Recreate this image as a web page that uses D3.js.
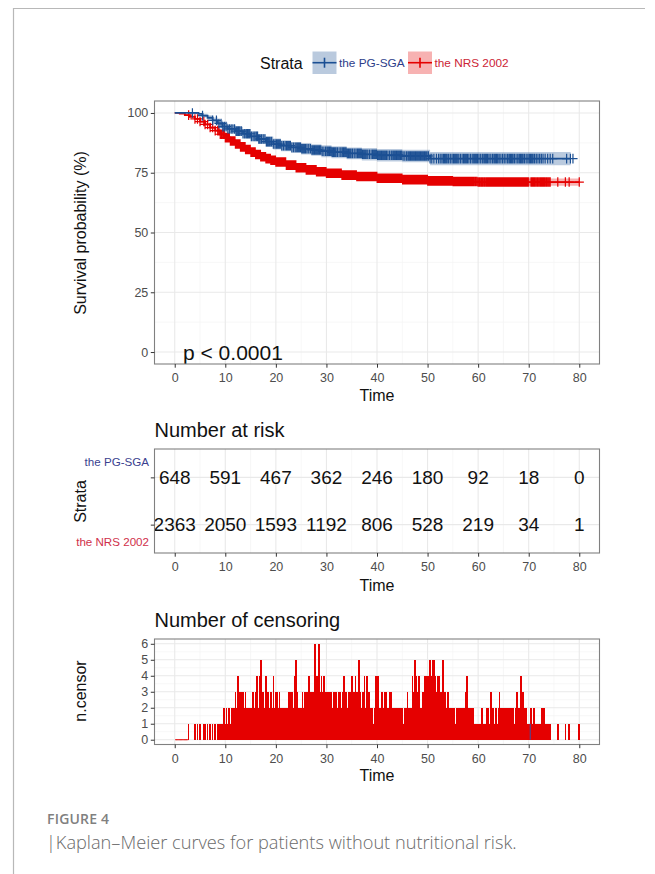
<!DOCTYPE html>
<html>
<head>
<meta charset="utf-8">
<script src="https://cdn.jsdelivr.net/npm/d3@7"></script>
<style>
  body { margin: 0; background: #fff; }
  svg { font-family: "Liberation Sans", Arial, sans-serif; }
</style>
</head>
<body>
<svg id="fig" width="655" height="874"></svg>
<script>
// ---- data ----
const strata = ["the PG-SGA", "the NRS 2002"];

// Kaplan-Meier steps, PG-SGA
const pgTime  = [0, 3, 4.7, 5.5, 6.5, 7.5, 8.5, 9.5, 10.5, 12, 13.5, 15, 16.5, 18, 19.5, 21, 23, 25, 27, 29, 31, 34, 37, 40, 45, 50.5, 78.3];
const pgSurv  = [100, 100, 99.6, 98.9, 98.0, 96.9, 95.6, 94.3, 93.3, 92.4, 91.3, 90.2, 89.1, 88.0, 87.0, 86.3, 85.6, 85.0, 84.5, 84.0, 83.6, 83.1, 82.7, 82.3, 82.0, 80.9, 80.9];
const pgUpper = [100, 100, 100, 99.7, 99.0, 98.1, 97.0, 95.9, 95.0, 94.2, 93.2, 92.2, 91.2, 90.2, 89.3, 88.6, 87.9, 87.4, 86.9, 86.5, 86.1, 85.6, 85.3, 84.9, 84.6, 83.7, 83.9];
const pgLower = [100, 99.7, 99.1, 98.1, 97.0, 95.7, 94.2, 92.7, 91.6, 90.6, 89.4, 88.2, 87.0, 85.8, 84.7, 84.0, 83.3, 82.6, 82.1, 81.5, 81.1, 80.6, 80.1, 79.7, 79.4, 78.1, 77.9];
// censored PG-SGA patients per unit of time, t = 0 ... 80 (marks on the curve)
const pgCensorCounts = [
  0, 0, 0, 1, 0, 1, 0, 1, 2, 3,
  3, 3, 4, 3, 4, 3, 4, 3, 4, 3,
  4, 3, 4, 3, 4, 4, 3, 4, 4, 3,
  4, 4, 3, 4, 4, 3, 4, 4, 3, 4,
  4, 4, 3, 4, 4, 3, 4, 4, 4, 4,
  3, 2, 3, 4, 3, 4, 3, 4, 3, 4,
  3, 4, 3, 4, 3, 3, 4, 3, 4, 3,
  4, 3, 3, 2, 2, 0, 0, 1, 2, 0,
  0];
const pgCensorBarTime = [70.3];
const pgCensorBarCount = [1];

// Kaplan-Meier steps, NRS 2002
const nrsTime  = [0, 1, 2, 3, 4, 5, 6, 7, 8, 9, 10, 11, 12, 13, 14, 15, 16, 17, 18, 19, 20, 22, 24, 26, 28, 30, 33, 36, 40, 45, 50, 55, 60, 80];
const nrsSurv  = [100, 99.7, 99.1, 98.4, 97.5, 96.4, 95.2, 93.9, 92.6, 91.1, 89.7, 88.3, 87.0, 85.8, 84.7, 83.6, 82.6, 81.7, 80.9, 80.2, 79.5, 78.2, 77.1, 76.2, 75.4, 74.8, 74.0, 73.4, 72.7, 72.1, 71.6, 71.3, 71.1, 71.1];
const nrsUpper = [100, 99.8, 99.3, 98.7, 97.8, 96.8, 95.6, 94.4, 93.1, 91.7, 90.3, 89.0, 87.7, 86.5, 85.5, 84.4, 83.4, 82.6, 81.8, 81.1, 80.4, 79.2, 78.1, 77.2, 76.5, 75.9, 75.1, 74.6, 73.9, 73.3, 72.9, 72.7, 72.6, 73.1];
const nrsLower = [100, 99.6, 98.9, 98.1, 97.2, 96.0, 94.8, 93.4, 92.1, 90.5, 89.1, 87.6, 86.3, 85.1, 83.9, 82.8, 81.8, 80.8, 80.0, 79.3, 78.6, 77.2, 76.1, 75.2, 74.3, 73.7, 72.9, 72.2, 71.5, 70.9, 70.3, 69.9, 69.6, 69.1];

// number of censored (NRS 2002) per quarter unit of time, t = 0, 0.25, ... 80
const nrsCensorCounts = [
  0, 0, 0, 0, 0, 0, 0, 0, 0, 0, 0, 1, 0, 0, 0, 0, 1, 0, 1, 0,
  1, 0, 0, 1, 1, 0, 1, 0, 1, 0, 1, 0, 1, 0, 1, 1, 1, 1, 1, 2,
  1, 2, 1, 2, 1, 2, 2, 2, 3, 2, 4, 3, 3, 3, 3, 2, 3, 2, 2, 2,
  2, 2, 3, 2, 3, 4, 2, 4, 5, 3, 3, 2, 4, 2, 3, 2, 3, 2, 4, 2,
  3, 3, 2, 3, 2, 2, 2, 2, 2, 2, 3, 3, 2, 3, 2, 4, 5, 3, 2, 2,
  2, 3, 2, 3, 3, 3, 4, 3, 3, 3, 3, 6, 4, 4, 6, 3, 4, 3, 4, 3,
  3, 3, 2, 3, 3, 2, 3, 3, 3, 2, 3, 3, 2, 3, 4, 3, 3, 2, 3, 3,
  4, 3, 3, 4, 3, 3, 5, 3, 2, 3, 4, 2, 4, 3, 3, 2, 2, 1, 2, 4,
  4, 4, 2, 2, 3, 2, 3, 3, 2, 2, 3, 3, 2, 2, 2, 2, 2, 2, 2, 2,
  2, 1, 2, 2, 3, 2, 2, 2, 4, 3, 5, 4, 3, 4, 2, 2, 3, 3, 4, 4,
  4, 4, 5, 4, 5, 5, 4, 3, 4, 4, 3, 3, 5, 3, 3, 2, 3, 2, 2, 2,
  2, 2, 1, 2, 2, 2, 2, 2, 2, 2, 3, 4, 2, 2, 2, 2, 2, 1, 1, 1,
  1, 1, 1, 2, 1, 1, 1, 2, 2, 1, 3, 2, 2, 1, 2, 1, 2, 3, 2, 2,
  2, 2, 1, 2, 2, 2, 1, 2, 2, 1, 2, 3, 2, 2, 4, 3, 3, 2, 2, 1,
  1, 0, 2, 1, 2, 1, 1, 1, 1, 1, 2, 2, 2, 1, 1, 1, 1, 1, 0, 0,
  0, 0, 0, 1, 0, 0, 0, 0, 0, 1, 0, 0, 1, 0, 0, 0, 0, 0, 0, 0,
  1];
const censorBin = 0.25;
const pgCensorBin = 1;

// number at risk table
const riskTimes = [0, 10, 20, 30, 40, 50, 60, 70, 80];
const pgRisk  = [648, 591, 467, 362, 246, 180, 92, 18, 0];
const nrsRisk = [2363, 2050, 1593, 1192, 806, 528, 219, 34, 1];

const survTicks = [0, 25, 50, 75, 100];
const censorTicks = [0, 1, 2, 3, 4, 5, 6];

// ---- drawing ----
const blue = "#1b4f93", red = "#e50000";
const svg = d3.select("#fig");
svg.append("rect").attr("width", 655).attr("height", 874).attr("fill", "#fff");
svg.append("path").attr("d", "M13.5,874V8.5H645").attr("fill", "none")
  .attr("stroke", "#b8b8b8").attr("stroke-width", 1.2);

const x = d3.scaleLinear().domain([-4, 84]).range([154.5, 599.5]);
const xMinor = d3.range(5, 80, 10);

function panel(top, bottom, y, yMajor, yMinor) {
  const g = svg.append("g");
  g.append("rect").attr("x", 154.5).attr("y", top).attr("width", 445).attr("height", bottom - top).attr("fill", "#fff");
  g.selectAll(".vmin").data(xMinor).join("line")
    .attr("x1", d => x(d)).attr("x2", d => x(d)).attr("y1", top).attr("y2", bottom)
    .attr("stroke", "#f3f3f3").attr("stroke-width", 0.7);
  g.selectAll(".hmin").data(yMinor).join("line")
    .attr("x1", 154.5).attr("x2", 599.5).attr("y1", d => y(d)).attr("y2", d => y(d))
    .attr("stroke", "#f3f3f3").attr("stroke-width", 0.7);
  g.selectAll(".vmaj").data(riskTimes).join("line")
    .attr("x1", d => x(d)).attr("x2", d => x(d)).attr("y1", top).attr("y2", bottom)
    .attr("stroke", "#e9e9e9").attr("stroke-width", 1.1);
  g.selectAll(".hmaj").data(yMajor).join("line")
    .attr("x1", 154.5).attr("x2", 599.5).attr("y1", d => y(d)).attr("y2", d => y(d))
    .attr("stroke", "#e9e9e9").attr("stroke-width", 1.1);
  return g;
}

function border(top, bottom) {
  svg.append("rect").attr("x", 154.5).attr("y", top).attr("width", 445).attr("height", bottom - top)
    .attr("fill", "none").attr("stroke", "#808080").attr("stroke-width", 1.1);
}

function styleAxis(ax) {
  ax.select(".domain").remove();
  ax.selectAll("line").attr("stroke", "#333");
  ax.selectAll("text").attr("fill", "#4d4d4d").style("font-size", "12.5px")
    .style("font-family", "'Liberation Sans', Arial, sans-serif");
}

function xAxis(bottom, titleY) {
  const ax = svg.append("g").attr("transform", `translate(0,${bottom})`)
    .call(d3.axisBottom(x).tickValues(riskTimes).tickSize(3.7).tickPadding(5.5));
  styleAxis(ax);
  svg.append("text").attr("x", x(40)).attr("y", titleY).attr("text-anchor", "middle")
    .attr("font-size", "16px").attr("fill", "#111").text("Time");
}

function yAxis(y, ticks, fmt) {
  const ax = svg.append("g").attr("transform", "translate(154.5,0)")
    .call(d3.axisLeft(y).tickValues(ticks).tickSize(3.7).tickPadding(2.5).tickFormat(fmt));
  styleAxis(ax);
}

function yTitle(cy, label) {
  svg.append("text").attr("transform", `translate(86,${cy}) rotate(-90)`)
    .attr("text-anchor", "middle").attr("font-size", "16px").attr("fill", "#111").text(label);
}

// ---------- legend ----------
svg.append("text").attr("x", 260).attr("y", 68.5).attr("font-size", "16px").attr("fill", "#111").text("Strata");
const legend = [
  { x0: 312.5, label: strata[0], col: blue, txt: "#2d3d8a", tx: 339 },
  { x0: 408, label: strata[1], col: red, txt: "#cc2436", tx: 434.5 }
];
legend.forEach(l => {
  svg.append("rect").attr("x", l.x0).attr("y", 51.5).attr("width", 24).attr("height", 22.5)
    .attr("fill", l.col).attr("fill-opacity", 0.3);
  svg.append("line").attr("x1", l.x0).attr("x2", l.x0 + 24).attr("y1", 62.7).attr("y2", 62.7)
    .attr("stroke", l.col).attr("stroke-width", 1.6);
  svg.append("line").attr("x1", l.x0 + 12).attr("x2", l.x0 + 12).attr("y1", 57.7).attr("y2", 67.7)
    .attr("stroke", l.col).attr("stroke-width", 1.6);
  svg.append("text").attr("x", l.tx).attr("y", 67).attr("font-size", "11.8px").attr("fill", l.txt).text(l.label);
});

// ---------- survival plot ----------
const yS = d3.scaleLinear().domain([-5, 105]).range([364, 101]);
const gS = panel(101, 364, yS, survTicks, [12.5, 37.5, 62.5, 87.5]);

const pg = pgTime.map((t, i) => ({ t, s: pgSurv[i], lo: pgLower[i], hi: pgUpper[i] }));
const nrs = nrsTime.map((t, i) => ({ t, s: nrsSurv[i], lo: nrsLower[i], hi: nrsUpper[i] }));
const band = d3.area().curve(d3.curveStepAfter).x(d => x(d.t)).y0(d => yS(d.lo)).y1(d => yS(d.hi));
const line = d3.line().curve(d3.curveStepAfter).x(d => x(d.t)).y(d => yS(d.s));

gS.append("path").datum(pg).attr("d", band).attr("fill", blue).attr("fill-opacity", 0.3);
gS.append("path").datum(nrs).attr("d", band).attr("fill", red).attr("fill-opacity", 0.3);

const bis = d3.bisector(d => d.t).right;
const survAt = (arr, t) => arr[Math.max(0, bis(arr, t) - 1)].s;
const plus = (sx, sy) => `M${sx - 4.6},${sy}H${sx + 4.6}M${sx},${sy - 4.8}V${sy + 4.8}`;

// one "+" per censored patient, spread across its time bin
function markTimes(counts, bin, centred) {
  const out = [];
  counts.forEach((c, i) => {
    const t0 = centred ? i * bin - bin / 2 : i * bin;
    for (let j = 0; j < c; j++) out.push(t0 + (j + 0.5) * bin / c);
  });
  return out;
}

const nrsCensor = nrsCensorCounts.map((c, i) => ({ t: i * censorBin, c }));
const nrsBars = nrsCensor.filter(d => d.c > 0);

gS.append("path").datum(nrs).attr("d", line).attr("fill", "none").attr("stroke", red).attr("stroke-width", 1.8);
gS.append("path")
  .attr("d", markTimes(nrsCensorCounts, censorBin, true).map(t => plus(x(t), yS(survAt(nrs, t)))).join(""))
  .attr("fill", "none").attr("stroke", red).attr("stroke-width", 1.2);

gS.append("path").datum(pg).attr("d", line).attr("fill", "none").attr("stroke", blue).attr("stroke-width", 1.8);
gS.append("path")
  .attr("d", markTimes(pgCensorCounts, pgCensorBin, false).map(t => plus(x(t), yS(survAt(pg, t)))).join(""))
  .attr("fill", "none").attr("stroke", blue).attr("stroke-width", 1.2);

svg.append("text").attr("x", 183).attr("y", 359.5).attr("font-size", "21px").attr("fill", "#111").text("p < 0.0001");
border(101, 364);
yAxis(yS, survTicks, d3.format("d"));
xAxis(364, 401);
yTitle(233, "Survival probability (%)");

// ---------- number at risk ----------
svg.append("text").attr("x", 154.5).attr("y", 436.5).attr("font-size", "20px").attr("fill", "#111").text("Number at risk");
const yR = d3.scalePoint().domain(strata).range([449, 553]).padding(0.6);
panel(449, 553, yR, strata, []);
const riskRows = [pgRisk, nrsRisk];
riskRows.forEach((row, k) => {
  svg.append("g").selectAll("text").data(row).join("text")
    .attr("x", (d, i) => x(riskTimes[i])).attr("y", yR(strata[k]))
    .attr("dy", "0.36em").attr("text-anchor", "middle").attr("font-size", "19px").attr("fill", "#111")
    .text(d => d);
});
border(449, 553);
yAxis(yR, strata, () => "");
const labelShift = [-15, 17];
const labelCol = ["#3a3f8f", "#d0304a"];
strata.forEach((s, k) => {
  svg.append("text").attr("x", 149).attr("y", yR(s) + labelShift[k]).attr("dy", "0.35em")
    .attr("text-anchor", "end").attr("font-size", "11.6px").attr("fill", labelCol[k]).text(s);
});
xAxis(553, 590.5);
yTitle(501.5, "Strata");

// ---------- number of censoring ----------
svg.append("text").attr("x", 154.5).attr("y", 626.5).attr("font-size", "20px").attr("fill", "#111").text("Number of censoring");
const yC = d3.scaleLinear().domain([-0.3, 6.3]).range([744.5, 639]);
const gC = panel(639, 744.5, yC, censorTicks, [0.5, 1.5, 2.5, 3.5, 4.5, 5.5]);
const firstCensor = nrsBars[0].t;
const bw = x(censorBin) - x(0);
gC.append("g").selectAll("line").data(nrsCensor.filter(d => d.c === 0 && d.t < firstCensor && d.t > 0)).join("line")
  .attr("x1", d => x(d.t) - bw / 2 - 0.3).attr("x2", d => x(d.t) + bw / 2 + 0.3)
  .attr("y1", yC(0)).attr("y2", yC(0)).attr("stroke", red).attr("stroke-width", 0.9);
gC.append("g").attr("shape-rendering", "crispEdges").selectAll("rect").data(nrsBars).join("rect")
  .attr("x", d => x(d.t) - bw / 2 - 0.2).attr("width", bw + 0.4)
  .attr("y", d => yC(d.c)).attr("height", d => yC(0) - yC(d.c))
  .attr("fill", red);
gC.append("g").selectAll("rect").data(pgCensorBarTime).join("rect")
  .attr("x", d => x(d) - 0.5).attr("width", 1)
  .attr("y", (d, i) => yC(pgCensorBarCount[i])).attr("height", (d, i) => yC(0) - yC(pgCensorBarCount[i]))
  .attr("fill", "#3b4fa0");
border(639, 744.5);
yAxis(yC, censorTicks, d3.format("d"));
xAxis(744.5, 780.5);
yTitle(691, "n.censor");

// ---------- caption ----------
svg.append("text").attr("x", 47).attr("y", 824).style("font-family", "'Open Sans', sans-serif")
  .style("font-weight", 600).style("font-size", "14px").style("letter-spacing", "0.2px")
  .attr("fill", "#808080").text("FIGURE 4");
svg.append("text").attr("x", 46).attr("y", 849).style("font-family", "'Open Sans', sans-serif")
  .style("font-weight", 300).style("font-size", "18.2px").attr("fill", "#6a6a6a")
  .text("|Kaplan\u2013Meier curves for patients without nutritional risk.");
</script>
</body>
</html>
